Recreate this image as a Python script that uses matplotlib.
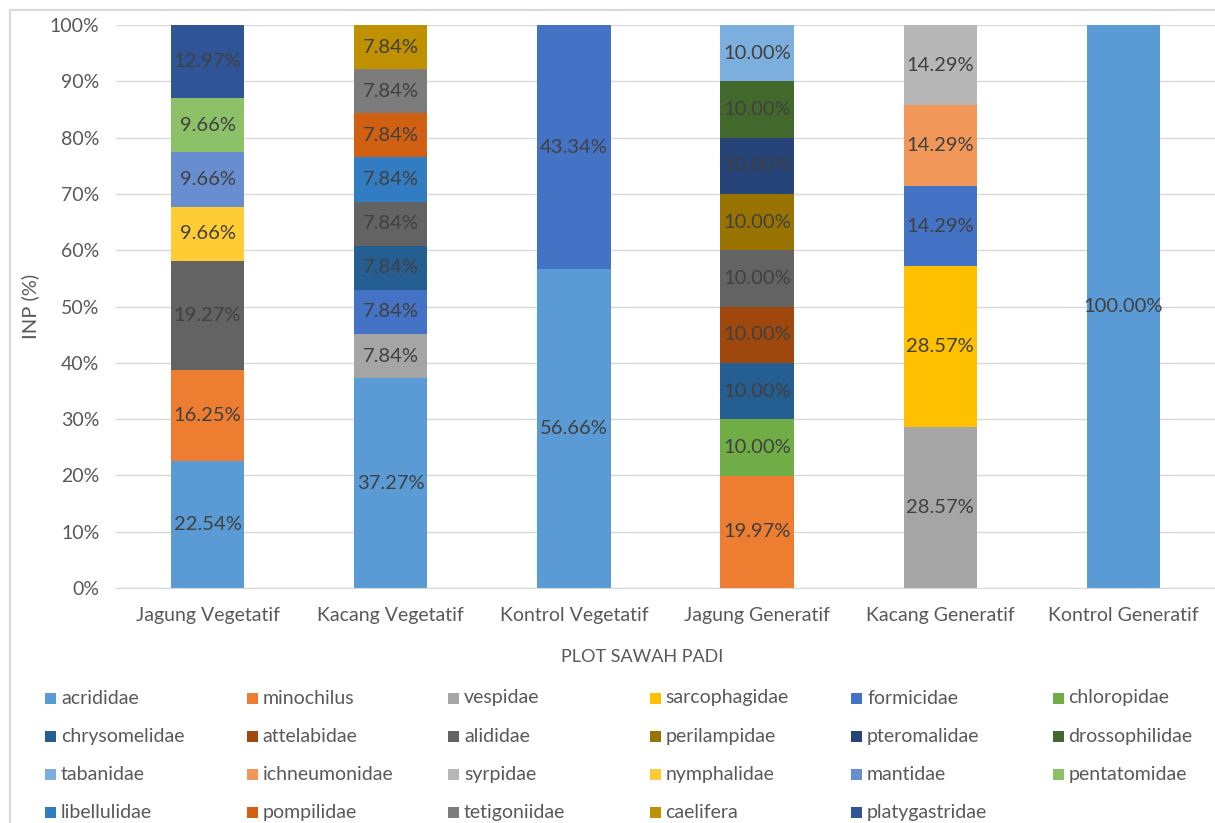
import matplotlib
matplotlib.use("Agg")
import matplotlib.pyplot as plt
from matplotlib.patches import Rectangle
from matplotlib.lines import Line2D
from matplotlib.ticker import FuncFormatter, MultipleLocator

plt.rcParams['font.family'] = ['Lato', 'DejaVu Sans']

categories = ["Jagung Vegetatif", "Kacang Vegetatif", "Kontrol Vegetatif",
              "Jagung Generatif", "Kacang Generatif", "Kontrol Generatif"]

families = ["acrididae", "minochilus", "vespidae", "sarcophagidae", "formicidae", "chloropidae",
            "chrysomelidae", "attelabidae", "alididae", "perilampidae", "pteromalidae", "drossophilidae",
            "tabanidae", "ichneumonidae", "syrpidae", "nymphalidae", "mantidae", "pentatomidae",
            "libellulidae", "pompilidae", "tetigoniidae", "caelifera", "platygastridae"]

colors = ["#5B9BD5", "#ED7D31", "#A5A5A5", "#FFC000", "#4472C4", "#70AD47",
          "#255E91", "#9E480E", "#636363", "#997300", "#264478", "#43682B",
          "#7CAFDD", "#F1975A", "#B7B7B7", "#FFCD33", "#698ED0", "#8CC168",
          "#327DC2", "#D26012", "#7C7C7C", "#BF9000", "#2F5597"]

# INP values (%) per category, aligned with `families`
jagung_vegetatif  = [22.54, 16.25, 0, 0, 0, 0, 0, 0, 19.27, 0, 0, 0, 0, 0, 0, 9.66, 9.66, 9.66, 0, 0, 0, 0, 12.97]
kacang_vegetatif  = [37.27, 0, 7.84, 0, 7.84, 0, 7.84, 0, 7.84, 0, 0, 0, 0, 0, 0, 0, 0, 0, 7.84, 7.84, 7.84, 7.84, 0]
kontrol_vegetatif = [56.66, 0, 0, 0, 43.34, 0, 0, 0, 0, 0, 0, 0, 0, 0, 0, 0, 0, 0, 0, 0, 0, 0, 0]
jagung_generatif  = [0, 19.97, 0, 0, 0, 10.00, 10.00, 10.00, 10.00, 10.00, 10.00, 10.00, 10.00, 0, 0, 0, 0, 0, 0, 0, 0, 0, 0]
kacang_generatif  = [0, 0, 28.57, 28.57, 14.29, 0, 0, 0, 0, 0, 0, 0, 0, 14.29, 14.29, 0, 0, 0, 0, 0, 0, 0, 0]
kontrol_generatif = [100.00, 0, 0, 0, 0, 0, 0, 0, 0, 0, 0, 0, 0, 0, 0, 0, 0, 0, 0, 0, 0, 0, 0]

columns = [jagung_vegetatif, kacang_vegetatif, kontrol_vegetatif,
           jagung_generatif, kacang_generatif, kontrol_generatif]

W, H = 1215, 823
fig = plt.figure(figsize=(W / 100, H / 100), dpi=100)
ax = fig.add_axes([116 / W, 1 - 588 / H, (1215 - 116) / W, (588 - 25) / H])

totals = [sum(c) for c in columns]
x = list(range(len(categories)))
bottoms = [0.0] * len(categories)
for i, fam in enumerate(families):
    raw = [columns[j][i] for j in range(len(categories))]
    share = [raw[j] / totals[j] * 100 for j in range(len(categories))]
    bars = ax.bar(x, share, bottom=bottoms, width=0.4, color=colors[i], zorder=2, linewidth=0)
    for j, b in enumerate(bars):
        if raw[j] > 0:
            ax.text(b.get_x() + b.get_width() / 2, bottoms[j] + share[j] / 2, f"{raw[j]:.2f}%",
                    ha="center", va="center", fontsize=14.5, color="#404040", zorder=3)
    bottoms = [bottoms[j] + share[j] for j in range(len(categories))]

ax.set_xlim(-0.5, len(categories) - 0.5)
ax.set_ylim(0, 100)
ax.yaxis.set_major_locator(MultipleLocator(10))
ax.yaxis.set_major_formatter(FuncFormatter(lambda v, p: f"{v:.0f}%"))
ax.set_xticks(x)
ax.set_xticklabels(categories)
ax.tick_params(axis="both", length=0, labelsize=14, colors="#595959")
ax.tick_params(axis="x", pad=14)
ax.tick_params(axis="y", pad=12)
ax.grid(axis="y", color="#D9D9D9", linewidth=1, zorder=0)
for s in ["top", "right", "left"]:
    ax.spines[s].set_visible(False)
ax.spines["bottom"].set_color("#D9D9D9")
ax.set_xlabel("PLOT SAWAH PADI", fontsize=13, color="#595959")
ax.xaxis.set_label_coords((642 - 116) / (1215 - 116), -(657 - 588) / (588 - 25))
ax.xaxis.label.set_va("center")
ax.set_ylabel("INP (%)", fontsize=14.5, color="#595959")
ax.yaxis.set_label_coords((30 - 116) / (1215 - 116), (588 - 306) / (588 - 25))
ax.yaxis.label.set_va("center")

# chart border (cropped)
fig.add_artist(Line2D([10 / W, 10 / W], [0, 1 - 10 / H], transform=fig.transFigure, color="#D9D9D9", lw=1.5))
fig.add_artist(Line2D([10 / W, 1], [1 - 10 / H, 1 - 10 / H], transform=fig.transFigure, color="#D9D9D9", lw=1.5))

# legend, row-major 6 columns
for idx, fam in enumerate(families):
    r, c = divmod(idx, 6)
    px = 45 + c * 201.5
    py = 698 + r * 38.3
    fig.add_artist(Rectangle((px / W, 1 - (py + 5.5) / H), 11 / W, 11 / H,
                             transform=fig.transFigure, color=colors[idx], lw=0))
    fig.text((px + 16) / W, 1 - py / H, fam, fontsize=14, color="#595959", va="center", ha="left")

fig.savefig("out.png", dpi=100)
